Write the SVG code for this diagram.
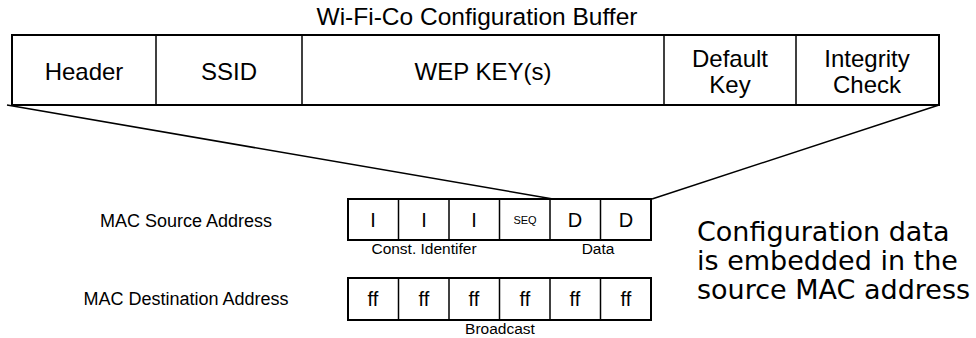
<svg xmlns="http://www.w3.org/2000/svg" width="976" height="338" viewBox="0 0 976 338">
<style>
.box{fill:#fff;stroke:#000;stroke-width:2}
.div{stroke:#000;stroke-width:1.5}
.t{font-family:"Liberation Sans",Arial,sans-serif;fill:#000;text-anchor:middle}
.big{font-size:24px}
.title{font-size:24.5px}
.lab{font-size:18px}
.cell{font-size:20px}
.seq{font-size:11px}
.small{font-size:15.5px}
.note{font-family:"DejaVu Sans",Verdana,sans-serif;font-size:27px;fill:#000}
.con{stroke:#000;stroke-width:1.5;fill:none}
</style>
<text class="t title" x="477" y="25">Wi-Fi-Co Configuration Buffer</text>
<g id="buffer">
<rect class="box" x="12" y="35" width="927" height="70"/>
<line class="div" x1="156" y1="35" x2="156" y2="105"/>
<line class="div" x1="302" y1="35" x2="302" y2="105"/>
<line class="div" x1="664" y1="35" x2="664" y2="105"/>
<line class="div" x1="796" y1="35" x2="796" y2="105"/>
<text class="t big" x="84" y="80">Header</text>
<text class="t big" x="229" y="80">SSID</text>
<text class="t big" x="483" y="80">WEP KEY(s)</text>
<text class="t big" x="730" y="67">Default</text>
<text class="t big" x="730" y="93">Key</text>
<text class="t big" x="867" y="67">Integrity</text>
<text class="t big" x="867" y="93">Check</text>
</g>
<g id="connectors">
<line class="con" x1="7" y1="105" x2="553" y2="199"/>
<line class="con" x1="939" y1="105" x2="652" y2="199"/>
</g>
<g id="source">
<text class="t lab" x="186" y="227">MAC Source Address</text>
<rect class="box" x="348" y="199" width="303" height="41"/>
<line class="div" x1="398.5" y1="199" x2="398.5" y2="240"/>
<line class="div" x1="449" y1="199" x2="449" y2="240"/>
<line class="div" x1="499.5" y1="199" x2="499.5" y2="240"/>
<line class="div" x1="550" y1="199" x2="550" y2="240"/>
<line class="div" x1="600.5" y1="199" x2="600.5" y2="240"/>
<text class="t cell" x="373" y="227">I</text>
<text class="t cell" x="424" y="227">I</text>
<text class="t cell" x="474" y="227">I</text>
<text class="t seq" x="525" y="224">SEQ</text>
<text class="t cell" x="575" y="227">D</text>
<text class="t cell" x="626" y="227">D</text>
<text class="t small" x="424" y="254">Const. Identifer</text>
<text class="t small" x="598" y="254">Data</text>
</g>
<g id="destination">
<text class="t lab" x="186" y="305">MAC Destination Address</text>
<rect class="box" x="348" y="278" width="303" height="42"/>
<line class="div" x1="398.5" y1="278" x2="398.5" y2="320"/>
<line class="div" x1="449" y1="278" x2="449" y2="320"/>
<line class="div" x1="499.5" y1="278" x2="499.5" y2="320"/>
<line class="div" x1="550" y1="278" x2="550" y2="320"/>
<line class="div" x1="600.5" y1="278" x2="600.5" y2="320"/>
<text class="t cell" x="373" y="306">ff</text>
<text class="t cell" x="424" y="306">ff</text>
<text class="t cell" x="474" y="306">ff</text>
<text class="t cell" x="525" y="306">ff</text>
<text class="t cell" x="575" y="306">ff</text>
<text class="t cell" x="626" y="306">ff</text>
<text class="t small" x="500" y="334">Broadcast</text>
</g>
<g id="note">
<text class="note" x="697" y="241">Configuration data</text>
<text class="note" x="697" y="270">is embedded in the</text>
<text class="note" x="697" y="299">source MAC address</text>
</g>
</svg>
